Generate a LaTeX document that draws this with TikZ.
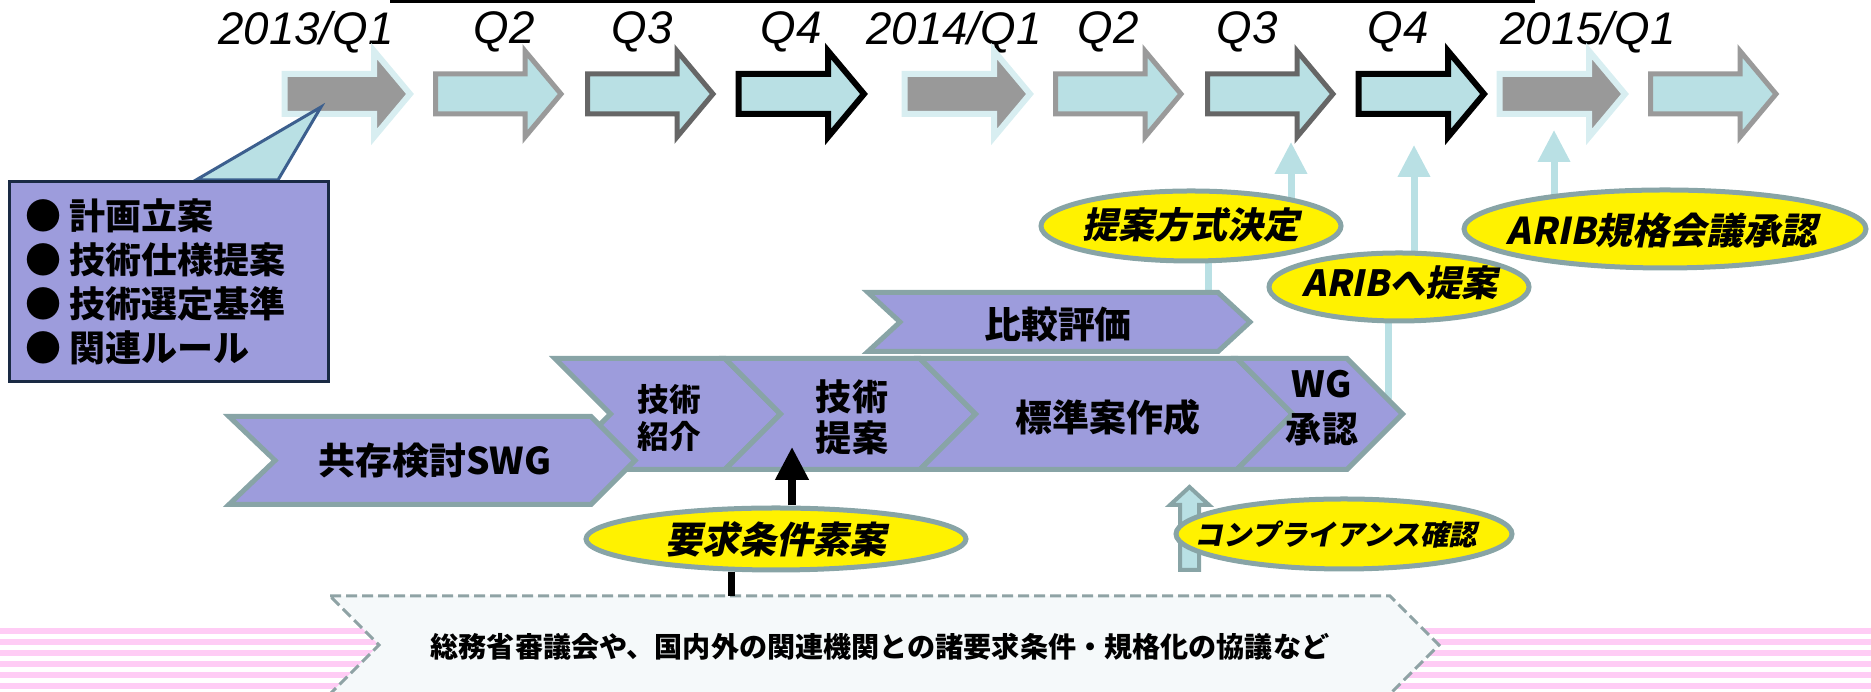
\documentclass[tikz,border=0pt]{standalone}
\usepackage{fontspec}
\usetikzlibrary{arrows.meta,shapes.geometric,backgrounds}

\newfontfamily\jp{Noto Sans CJK JP}
\newfontfamily\jpsl{Noto Sans CJK JP}[FakeSlant=0.2]
\newfontfamily\qfont{Liberation Sans}

\definecolor{qblue}{HTML}{B9E0E4}
\definecolor{qpale}{HTML}{D8EEF1}
\definecolor{qgrayfill}{HTML}{999999}
\definecolor{qgrayline}{HTML}{9A9A9A}
\definecolor{qdarkline}{HTML}{666666}
\definecolor{chevfill}{HTML}{9D9CDC}
\definecolor{chevline}{HTML}{88A4A6}
\definecolor{planline}{HTML}{1A2A44}
\definecolor{callline}{HTML}{3C5F8E}
\definecolor{notefill}{HTML}{F5F9FA}
\definecolor{noteline}{HTML}{8FA3A5}
\definecolor{stripepink}{HTML}{FFCCF5}

\tikzset{
  qgray/.style={fill=qgrayfill, draw=qpale, line width=0.12cm},
  qlight/.style={fill=qblue, draw=qgrayline, line width=0.1cm},
  qdark/.style={fill=qblue, draw=qdarkline, line width=0.1cm},
  qblack/.style={fill=qblue, draw=black, line width=0.12cm},
  qlabel/.style={inner sep=0pt, font=\qfont\itshape\fontsize{26}{26}\selectfont},
  callout/.style={fill=qblue, draw=callline, line width=0.06cm},
  planbox/.style={rectangle, fill=chevfill, draw=planline, line width=0.06cm, minimum width=6.38cm, minimum height=4.0cm},
  listitem/.style={anchor=west, inner sep=0pt, font=\jp\bfseries\fontsize{20.5}{24}\selectfont},
  chev/.style={fill=chevfill, draw=chevline, line width=0.1cm},
  chevtext/.style={align=center, inner sep=0pt, font=\jp\bfseries\fontsize{21}{23.5}\selectfont},
  oval/.style={ellipse, fill=yellow, draw=chevline, line width=0.1cm, inner sep=0pt},
  ovaltext/.style={inner sep=0pt, font=\jpsl\bfseries\fontsize{20.5}{22}\selectfont},
  bluelink/.style={draw=qblue, line width=0.14cm},
  bluearrow/.style={bluelink, -{Triangle[width=0.62cm,length=0.64cm]}},
  reqarrow/.style={draw=black, line width=0.15cm, -{Triangle[width=0.64cm,length=0.66cm]}},
  blackline/.style={draw=black, line width=0.14cm},
  upblock/.style={fill=qblue, draw=chevline, line width=0.08cm},
  notebox/.style={fill=notefill, draw=noteline, line width=0.06cm, dash pattern=on 0.22cm off 0.1cm},
  notetext/.style={inner sep=0pt, font=\jp\bfseries\fontsize{16}{18}\selectfont},
  stripe/.style={fill=stripepink}
}

\begin{document}
\begin{tikzpicture}
\useasboundingbox (0,0) rectangle (37.42,13.84);

% pink band and the bottom arrow
\foreach \y in {1.22,1.00,0.78,0.56,0.34,0.12}
  \fill[stripe] (0,\y-0.054) rectangle (37.42,\y+0.054);
\draw[notebox] (6.60,1.92) -- (27.80,1.92) -- (28.78,0.94) -- (27.80,-0.04) -- (6.60,-0.04) -- (7.58,0.94) -- cycle;
\node[notetext] (kyogi) at (17.60,0.90) {総務省審議会や、国内外の関連機関との諸要求条件・規格化の協議など};
\coordinate (note-n) at (14.62,1.92);

% quarters
\draw[line width=0.06cm] (7.82,14.0) -- (7.82,13.80) -- (30.66,13.80) -- (30.66,14.0);
\foreach \x/\t [count=\i] in {6.12/{2013/Q1}, 10.08/Q2, 12.84/Q3, 15.82/Q4, 19.08/{2014/Q1}, 22.16/Q2, 24.94/Q3, 27.96/Q4, 31.76/{2015/Q1}}
  \node[qlabel] (lab\i) at (\x,13.20) {\t};
\foreach \x/\k in {5.64/qgray, 8.66/qlight, 11.70/qdark, 14.72/qblack, 18.04/qgray, 21.06/qlight, 24.10/qdark, 27.12/qblack, 29.94/qgray, 32.96/qlight}
  \draw[\k] (\x+0.05,11.56) -- ++(1.79,0) -- ++(0,-0.46) -- ++(0.72,0.86) -- ++(-0.72,0.86) -- ++(0,-0.46) -- ++(-1.79,0) -- cycle;
\coordinate (q7) at (25.82,11.00);
\coordinate (q8) at (28.28,10.94);
\coordinate (q9) at (31.08,11.24);

% callout
\draw[callout] (3.92,10.24) -- (6.42,11.70) -- (5.56,10.24) -- cycle;
\node[planbox] (plan) at (3.38,8.21) {};
\foreach \t [count=\i] in {計画立案, 技術仕様提案, 技術選定基準, 関連ルール}
  \node[listitem] (item\i) at (0.5,10.40-0.88*\i) {● \t};

% phases
\draw[chev] (17.36,7.99) -- (24.36,7.99) -- (25.00,7.40) -- (24.36,6.81) -- (17.36,6.81) -- (18.00,7.40) -- cycle;
\draw[chev] (11.10,6.67) -- (14.50,6.67) -- (15.61,5.56) -- (14.50,4.45) -- (11.10,4.45) -- (12.21,5.56) -- cycle;
\draw[chev] (14.50,6.67) -- (18.40,6.67) -- (19.51,5.56) -- (18.40,4.45) -- (14.50,4.45) -- (15.61,5.56) -- cycle;
\draw[chev] (18.40,6.67) -- (24.74,6.67) -- (25.85,5.56) -- (24.74,4.45) -- (18.40,4.45) -- (19.51,5.56) -- cycle;
\draw[chev] (24.74,6.67) -- (26.94,6.67) -- (28.05,5.56) -- (26.94,4.45) -- (24.74,4.45) -- (25.85,5.56) -- cycle;
\draw[chev] (4.58,5.51) -- (11.82,5.51) -- (12.70,4.63) -- (11.82,3.75) -- (4.58,3.75) -- (5.50,4.63) -- cycle;
\node[chevtext] (hikaku) at (21.16,7.34) {比較評価};
\node[chevtext] (swg) at (8.70,4.62) {共存検討SWG};
\node[chevtext, font=\jp\bfseries\fontsize{18}{21.6}\selectfont] (shokai) at (13.38,5.48) {技術\\紹介};
\node[chevtext, font=\jp\bfseries\fontsize{20.5}{23.3}\selectfont] (teian) at (17.04,5.49) {技術\\提案};
\node[chevtext] (hyojun) at (22.16,5.50) {標準案作成};
\node[chevtext, font=\jp\bfseries\fontsize{20.5}{25.6}\selectfont] (wg) at (26.44,5.67) {WG\\承認};
\coordinate (hikaku-n) at (24.16,7.99);
\coordinate (wg-ne) at (27.76,5.85);
\coordinate (teian-in) at (15.84,4.90);

% milestones
\draw[upblock] (23.60,2.44) -- (23.60,3.74) -- (23.40,3.74) -- (23.79,4.10) -- (24.18,3.74) -- (23.98,3.74) -- (23.98,2.44) -- cycle;
\node[oval, minimum width=6.00cm, minimum height=1.40cm] (kettei) at (23.82,9.32) {};
\node[oval, minimum width=5.20cm, minimum height=1.36cm] (arib) at (27.98,8.10) {};
\node[oval, minimum width=8.04cm, minimum height=1.56cm] (kaigi) at (33.30,9.26) {};
\node[oval, minimum width=7.60cm, minimum height=1.24cm] (yokyu) at (15.52,3.06) {};
\node[oval, minimum width=6.72cm, minimum height=1.40cm] (comp) at (26.88,3.16) {};
\node[ovaltext] (kettei-t) at (23.82,9.34) {提案方式決定};
\node[ovaltext] (arib-t) at (28.00,8.18) {ARIBへ提案};
\node[ovaltext, font=\jpsl\bfseries\fontsize{21}{22}\selectfont] (kaigi-t) at (33.24,9.22) {ARIB規格会議承認};
\node[ovaltext, font=\jpsl\bfseries\fontsize{21}{22}\selectfont] (yokyu-t) at (15.52,3.06) {要求条件素案};
\node[ovaltext, font=\jpsl\bfseries\fontsize{16.2}{18}\selectfont] (comp-t) at (26.72,3.14) {コンプライアンス確認};

% links
\draw[reqarrow] (yokyu.north -| teian-in) -- (teian-in);
\draw[blackline] (yokyu.south -| note-n) -- (note-n);
\begin{scope}[on background layer]
  \draw[bluelink] (hikaku-n) -- (hikaku-n |- kettei);
  \draw[bluearrow] (q7 |- kettei) -- (q7);
  \draw[bluelink] (wg-ne) -- (wg-ne |- arib);
  \draw[bluearrow] (q8 |- arib) -- (q8);
  \draw[bluearrow] (q9 |- kaigi) -- (q9);
\end{scope}
\end{tikzpicture}
\end{document}
